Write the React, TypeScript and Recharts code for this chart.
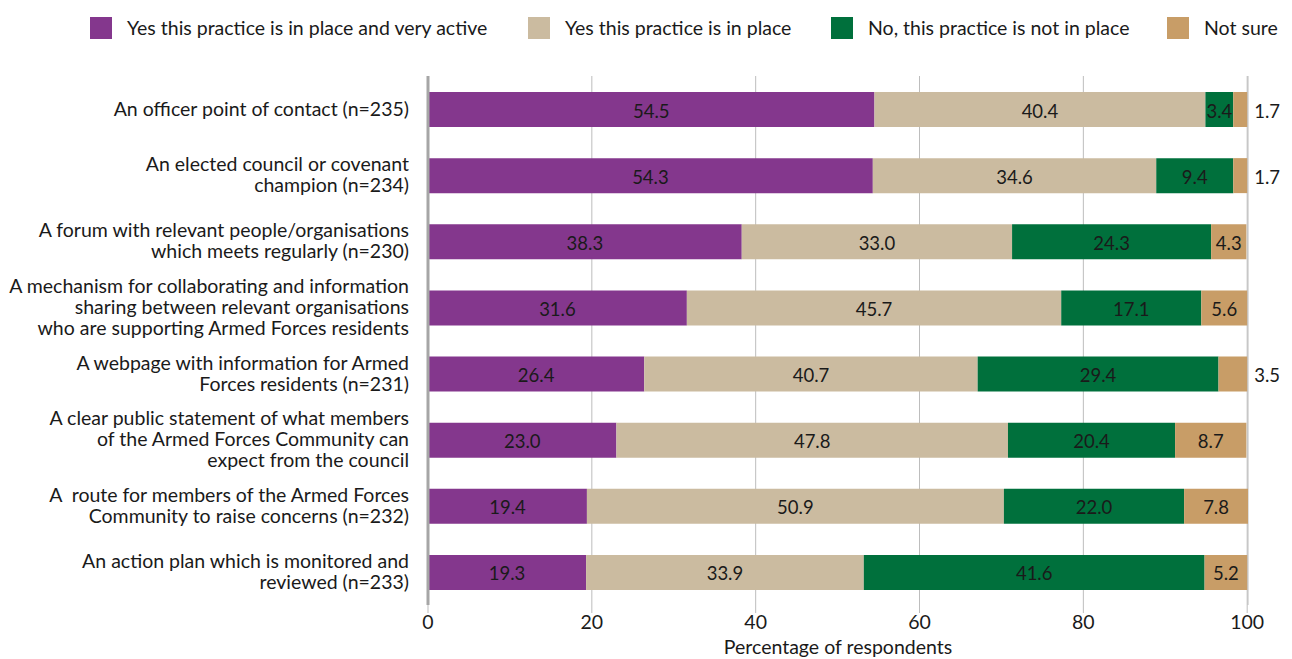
import { BarChart, Bar, XAxis, YAxis, CartesianGrid, LabelList } from 'recharts';

const categories = [
    'An officer point of contact (n=235)',
    'An elected council or covenant\nchampion (n=234)',
    'A forum with relevant people/organisations\nwhich meets regularly (n=230)',
    'A mechanism for collaborating and information\nsharing between relevant organisations\nwho are supporting Armed Forces residents',
    'A webpage with information for Armed\nForces residents (n=231)',
    'A clear public statement of what members\nof the Armed Forces Community can\nexpect from the council',
    'A  route for members of the Armed Forces\nCommunity to raise concerns (n=232)',
    'An action plan which is monitored and\nreviewed (n=233)',
];

const veryActive = [54.5, 54.3, 38.3, 31.6, 26.4, 23.0, 19.4, 19.3];
const inPlace = [40.4, 34.6, 33.0, 45.7, 40.7, 47.8, 50.9, 33.9];
const notInPlace = [3.4, 9.4, 24.3, 17.1, 29.4, 20.4, 22.0, 41.6];
const notSure = [1.7, 1.7, 4.3, 5.6, 3.5, 8.7, 7.8, 5.2];

const xTicks = [0, 20, 40, 60, 80, 100];

const series = [
    { key: 'veryActive', name: 'Yes this practice is in place and very active', color: '#84378D' },
    { key: 'inPlace', name: 'Yes this practice is in place', color: '#CBBBA0' },
    { key: 'notInPlace', name: 'No, this practice is not in place', color: '#00703C' },
    { key: 'notSure', name: 'Not sure', color: '#C89D67' },
];

const FONT = 'Lato, "Open Sans", sans-serif';
const FS = 19.5;

const data = categories.map((label, i) => ({
    label,
    veryActive: veryActive[i],
    inPlace: inPlace[i],
    notInPlace: notInPlace[i],
    notSure: notSure[i],
}));

// category label, split on newlines, right aligned next to the axis
const CategoryTick = ({ x, y, payload }: any) => {
    const lines: string[] = String(payload.value).split('\n');
    const lh = 21;
    const start = y - 1.5 - ((lines.length - 1) * lh) / 2;
    return (
        <text x={x - 11} y={start} textAnchor="end" fontSize={FS} fontFamily={FONT} fill="#1a1a1a" dominantBaseline="central">
            {lines.map((l, i) => (
                <tspan key={i} x={x - 11} y={start + i * lh} style={{ whiteSpace: 'pre' }}>
                    {l}
                </tspan>
            ))}
        </text>
    );
};

const makeLabel = (outsideSmall: boolean) => (props: any) => {
    const { x, y, width, height, value } = props;
    const txt = Number(value).toFixed(1);
    const outside = outsideSmall && value < 4;
    return (
        <text
            x={outside ? x + width + 7 : x + width / 2}
            y={y + height / 2 + 1}
            textAnchor={outside ? 'start' : 'middle'}
            dominantBaseline="central"
            fontSize={18.5}
            fontFamily={FONT}
            fill="#1a1a1a"
        >
            {txt}
        </text>
    );
};

const legendX = [90, 528, 831, 1167];

export default function App() {
    document.body.style.margin = '0';
    return (
        <div style={{ position: 'relative', width: 1292, height: 659, background: '#fff' }}>
            {series.map((s, i) => (
                <div key={s.key} style={{ position: 'absolute', left: legendX[i], top: 17, height: 22, display: 'flex', alignItems: 'center', fontFamily: FONT, fontSize: FS, color: '#1a1a1a' }}>
                    <span style={{ width: 22, height: 22, background: s.color, display: 'inline-block', marginRight: 15 }} />
                    <span style={{ whiteSpace: 'nowrap', lineHeight: '22px' }}>{s.name}</span>
                </div>
            ))}
            <BarChart width={1292} height={659} data={data} layout="vertical" barSize={35} margin={{ top: 76, right: 44, left: 0, bottom: 0 }}>
                <CartesianGrid horizontal={false} vertical stroke="#BDBDBD" strokeWidth={1} />
                <XAxis
                    type="number"
                    domain={[0, 100]}
                    ticks={xTicks}
                    axisLine={false}
                    tickLine={{ stroke: '#BDBDBD' }}
                    tickSize={8}
                    height={54}
                    tick={{ fontSize: FS, fontFamily: FONT, fill: '#1a1a1a' }}
                    label={{ value: 'Percentage of respondents', position: 'insideBottom', offset: 5, fontSize: FS, fontFamily: FONT, fill: '#1a1a1a' }}
                />
                <YAxis
                    type="category"
                    dataKey="label"
                    width={428}
                    axisLine={{ stroke: '#A6A6A6', strokeWidth: 3 }}
                    tickLine={false}
                    interval={0}
                    tick={<CategoryTick />}
                />
                {series.map((s) => (
                    <Bar key={s.key} dataKey={s.key} name={s.name} stackId="a" fill={s.color} isAnimationActive={false}>
                        <LabelList dataKey={s.key} content={makeLabel(s.key === 'notSure')} />
                    </Bar>
                ))}
            </BarChart>
        </div>
    );
}
